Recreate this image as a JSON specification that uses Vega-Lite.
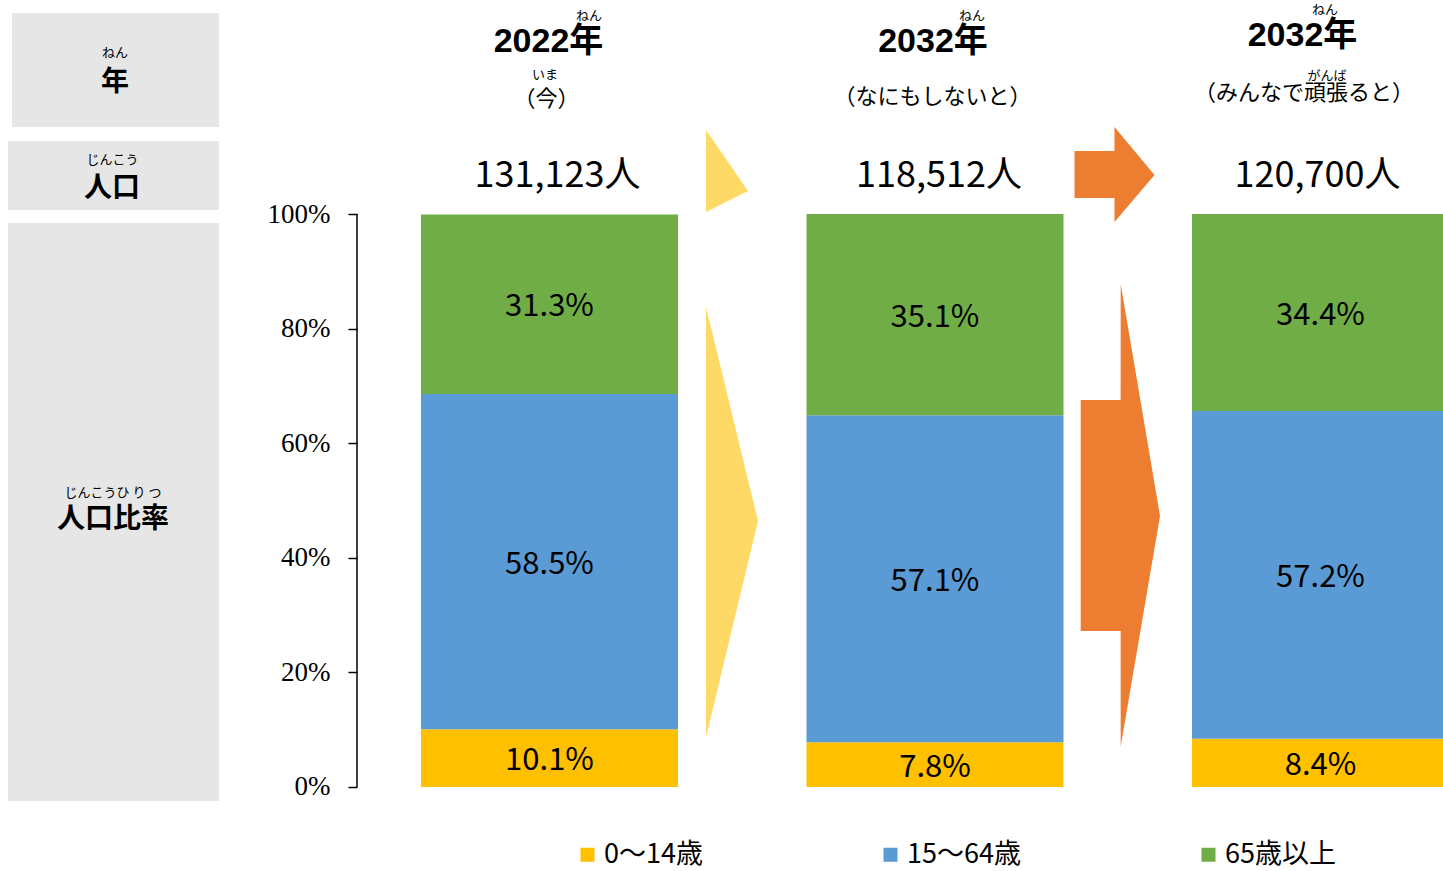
{
  "$schema": "https://vega.github.io/schema/vega-lite/v6.json",
  "width": 1086,
  "height": 871,
  "padding": {"left": 357, "top": 0, "right": 0, "bottom": 0},
  "autosize": {"type": "none"},
  "background": "white",
  "config": {"view": {"stroke": null}},
  "datasets": {
    "bars": [
      {"year": "2022年", "slot": 0, "age": "0～14歳", "k": 1, "value": 10.1, "label": "10.1%"},
      {"year": "2022年", "slot": 0, "age": "15～64歳", "k": 2, "value": 58.5, "label": "58.5%"},
      {"year": "2022年", "slot": 0, "age": "65歳以上", "k": 3, "value": 31.3, "label": "31.3%"},
      {"year": "2032年（なにもしないと）", "slot": 1, "age": "0～14歳", "k": 1, "value": 7.8, "label": "7.8%"},
      {"year": "2032年（なにもしないと）", "slot": 1, "age": "15～64歳", "k": 2, "value": 57.1, "label": "57.1%"},
      {"year": "2032年（なにもしないと）", "slot": 1, "age": "65歳以上", "k": 3, "value": 35.1, "label": "35.1%"},
      {"year": "2032年（みんなで頑張ると）", "slot": 2, "age": "0～14歳", "k": 1, "value": 8.4, "label": "8.4%"},
      {"year": "2032年（みんなで頑張ると）", "slot": 2, "age": "15～64歳", "k": 2, "value": 57.2, "label": "57.2%"},
      {"year": "2032年（みんなで頑張ると）", "slot": 2, "age": "65歳以上", "k": 3, "value": 34.4, "label": "34.4%"}
    ],
    "boxes": [
      {"row": "年", "s1": -1.3943, "s2": -0.8573, "p1": 135.08, "p2": 115.18},
      {"row": "人口", "s1": -1.4047, "s2": -0.8573, "p1": 112.74, "p2": 100.70},
      {"row": "人口比率", "s1": -1.4047, "s2": -0.8573, "p1": 98.43, "p2": -2.44}
    ],
    "arrows": [
      {"arrow": "a1", "group": "step1", "s": 0.4060, "top": 114.66, "bottom": 100.35},
      {"arrow": "a1", "group": "step1", "s": 0.5149, "top": 104.01, "bottom": 104.01},
      {"arrow": "a2", "group": "step1", "s": 0.4060, "top": 83.77, "bottom": 8.73},
      {"arrow": "a2", "group": "step1", "s": 0.5409, "top": 46.42, "bottom": 46.42},
      {"arrow": "a3", "group": "step2", "s": 1.3619, "top": 111.0, "bottom": 102.79},
      {"arrow": "a3", "group": "step2", "s": 1.4655, "top": 111.0, "bottom": 102.79},
      {"arrow": "a3", "group": "step2", "s": 1.4656, "top": 115.18, "bottom": 98.60},
      {"arrow": "a3", "group": "step2", "s": 1.5694, "top": 106.81, "bottom": 106.81},
      {"arrow": "a4", "group": "step2", "s": 1.3780, "top": 67.54, "bottom": 27.23},
      {"arrow": "a4", "group": "step2", "s": 1.4816, "top": 67.54, "bottom": 27.23},
      {"arrow": "a4", "group": "step2", "s": 1.4817, "top": 87.78, "bottom": 7.07},
      {"arrow": "a4", "group": "step2", "s": 1.5837, "top": 47.29, "bottom": 47.29}
    ],
    "axisline": [{"s": -0.4994, "p0": 0, "p1": 100}],
    "texts": [
      {"kind": "header", "s": -0.0026, "p": 130.10, "text": "2022年"},
      {"kind": "header", "s": 0.9948, "p": 130.10, "text": "2032年"},
      {"kind": "header", "s": 1.9533, "p": 131.06, "text": "2032年"},
      {"kind": "sub", "s": -0.0078, "p": 120.07, "text": "（今）"},
      {"kind": "sub", "s": 0.9935, "p": 120.42, "text": "（なにもしないと）"},
      {"kind": "sub", "s": 1.9572, "p": 121.12, "text": "（みんなで頑張ると）"},
      {"kind": "pop", "s": 0.0208, "p": 106.63, "text": "131,123人"},
      {"kind": "pop", "s": 1.0104, "p": 106.63, "text": "118,512人"},
      {"kind": "pop", "s": 1.9922, "p": 106.63, "text": "120,700人"},
      {"kind": "boxlabel", "s": -1.1271, "p": 122.95, "text": "年"},
      {"kind": "boxlabel", "s": -1.1349, "p": 104.4, "text": "人口"},
      {"kind": "boxlabel", "s": -1.1323, "p": 46.6, "text": "人口比率"},
      {"kind": "ruby", "s": -1.1271, "p": 128.1, "text": "ねん"},
      {"kind": "ruby", "s": -1.1336, "p": 109.45, "text": "じんこう"},
      {"kind": "ruby", "s": -1.1323, "p": 51.3, "text": "じんこうひ り つ"},
      {"kind": "ruby", "s": 0.1025, "p": 134.6, "text": "ねん"},
      {"kind": "ruby", "s": -0.0117, "p": 124.26, "text": "いま"},
      {"kind": "ruby", "s": 1.096, "p": 134.6, "text": "ねん"},
      {"kind": "ruby", "s": 2.0117, "p": 135.6, "text": "ねん"},
      {"kind": "ruby", "s": 2.0169, "p": 124.08, "text": "がんば"}
    ]
  },
  "layer": [
    {
      "data": {"name": "boxes"},
      "mark": {"type": "rect", "color": "#E7E6E6"},
      "encoding": {
        "x": {"field": "s1", "type": "quantitative", "scale": {"domain": [-0.4994, 2.3178], "nice": false, "zero": false, "padding": 0}, "axis": null},
        "x2": {"field": "s2"},
        "y": {"field": "p1", "type": "quantitative", "title": null, "scale": {"domain": [-14.66, 137.35], "nice": false, "zero": false, "padding": 0}},
        "y2": {"field": "p2"}
      }
    },
    {
      "data": {"name": "arrows"},
      "transform": [{"filter": {"field": "group", "equal": "step1"}}],
      "mark": {"type": "area", "color": "#FFD966", "orient": "vertical", "interpolate": "linear"},
      "encoding": {
        "x": {"field": "s", "type": "quantitative", "scale": {"domain": [-0.4994, 2.3178], "nice": false, "zero": false, "padding": 0}, "axis": null},
        "y": {"field": "top", "type": "quantitative", "title": null, "stack": null, "scale": {"domain": [-14.66, 137.35], "nice": false, "zero": false, "padding": 0}},
        "y2": {"field": "bottom"},
        "detail": {"field": "arrow"}
      }
    },
    {
      "data": {"name": "arrows"},
      "transform": [{"filter": {"field": "group", "equal": "step2"}}],
      "mark": {"type": "area", "color": "#ED7D31", "orient": "vertical", "interpolate": "linear"},
      "encoding": {
        "x": {"field": "s", "type": "quantitative", "scale": {"domain": [-0.4994, 2.3178], "nice": false, "zero": false, "padding": 0}, "axis": null},
        "y": {"field": "top", "type": "quantitative", "title": null, "stack": null, "scale": {"domain": [-14.66, 137.35], "nice": false, "zero": false, "padding": 0}},
        "y2": {"field": "bottom"},
        "detail": {"field": "arrow"}
      }
    },
    {
      "data": {"name": "bars"},
      "mark": {"type": "bar", "width": 257},
      "encoding": {
        "x": {"field": "slot", "type": "quantitative", "scale": {"domain": [-0.4994, 2.3178], "nice": false, "zero": false, "padding": 0}, "axis": null},
        "y": {
          "field": "value", "type": "quantitative", "stack": "zero", "title": null,
          "scale": {"domain": [-14.66, 137.35], "nice": false, "zero": false, "padding": 0},
          "axis": {
            "orient": "left",
            "values": [0, 20, 40, 60, 80, 100],
            "labelExpr": "datum.value + '%'",
            "domain": false,
            "grid": false,
            "title": null,
            "ticks": true,
            "tickSize": 9,
            "tickColor": "#000",
            "tickWidth": 1.5,
            "labelFont": "Liberation Serif",
            "labelFontSize": 27,
            "labelColor": "#000",
            "labelPadding": 18,
            "labelFlush": false,
            "labelOverlap": false,
            "labelBound": false
          }
        },
        "color": {
          "field": "age", "type": "nominal",
          "scale": {"domain": ["0～14歳", "15～64歳", "65歳以上"], "range": ["#FFC000", "#5B9BD5", "#70AD47"]},
          "legend": {
            "orient": "none", "legendX": 217, "legendY": 841, "direction": "horizontal",
            "title": null, "symbolType": "square", "symbolSize": 196, "symbolStrokeWidth": 0,
            "labelFont": "Noto Sans CJK JP",
            "labelFontSize": 27, "labelColor": "#000", "columnPadding": 174, "labelOffset": 3, "padding": 0
          }
        },
        "order": {"field": "k", "type": "quantitative"}
      }
    },
    {
      "data": {"name": "bars"},
      "mark": {"type": "text", "font": "Noto Sans CJK JP", "fontSize": 31, "color": "#000", "dy": 3},
      "encoding": {
        "x": {"field": "slot", "type": "quantitative", "scale": {"domain": [-0.4994, 2.3178], "nice": false, "zero": false, "padding": 0}, "axis": null},
        "y": {"field": "value", "type": "quantitative", "title": null, "stack": "zero", "bandPosition": 0.5, "scale": {"domain": [-14.66, 137.35], "nice": false, "zero": false, "padding": 0}},
        "detail": {"field": "age"},
        "order": {"field": "k", "type": "quantitative"},
        "text": {"field": "label"}
      }
    },
    {
      "data": {"name": "axisline"},
      "mark": {"type": "rule", "color": "#000", "strokeWidth": 1.5},
      "encoding": {
        "x": {"field": "s", "type": "quantitative", "scale": {"domain": [-0.4994, 2.3178], "nice": false, "zero": false, "padding": 0}, "axis": null},
        "y": {"field": "p0", "type": "quantitative", "title": null, "scale": {"domain": [-14.66, 137.35], "nice": false, "zero": false, "padding": 0}},
        "y2": {"field": "p1"}
      }
    },
    {
      "data": {"name": "texts"},
      "transform": [{"filter": {"field": "kind", "equal": "header"}}],
      "mark": {"type": "text", "font": "Liberation Sans, Noto Sans CJK JP", "fontWeight": "bold", "fontSize": 34, "color": "#000"},
      "encoding": {
        "x": {"field": "s", "type": "quantitative", "scale": {"domain": [-0.4994, 2.3178], "nice": false, "zero": false, "padding": 0}, "axis": null},
        "y": {"field": "p", "type": "quantitative", "title": null, "scale": {"domain": [-14.66, 137.35], "nice": false, "zero": false, "padding": 0}},
        "text": {"field": "text"}
      }
    },
    {
      "data": {"name": "texts"},
      "transform": [{"filter": {"field": "kind", "equal": "sub"}}],
      "mark": {"type": "text", "font": "Noto Sans CJK JP", "fontSize": 22, "color": "#000"},
      "encoding": {
        "x": {"field": "s", "type": "quantitative", "scale": {"domain": [-0.4994, 2.3178], "nice": false, "zero": false, "padding": 0}, "axis": null},
        "y": {"field": "p", "type": "quantitative", "title": null, "scale": {"domain": [-14.66, 137.35], "nice": false, "zero": false, "padding": 0}},
        "text": {"field": "text"}
      }
    },
    {
      "data": {"name": "texts"},
      "transform": [{"filter": {"field": "kind", "equal": "pop"}}],
      "mark": {"type": "text", "font": "Noto Sans CJK JP", "fontSize": 36, "color": "#000"},
      "encoding": {
        "x": {"field": "s", "type": "quantitative", "scale": {"domain": [-0.4994, 2.3178], "nice": false, "zero": false, "padding": 0}, "axis": null},
        "y": {"field": "p", "type": "quantitative", "title": null, "scale": {"domain": [-14.66, 137.35], "nice": false, "zero": false, "padding": 0}},
        "text": {"field": "text"}
      }
    },
    {
      "data": {"name": "texts"},
      "transform": [{"filter": {"field": "kind", "equal": "boxlabel"}}],
      "mark": {"type": "text", "font": "Noto Sans CJK JP", "fontWeight": "bold", "fontSize": 28, "color": "#000"},
      "encoding": {
        "x": {"field": "s", "type": "quantitative", "scale": {"domain": [-0.4994, 2.3178], "nice": false, "zero": false, "padding": 0}, "axis": null},
        "y": {"field": "p", "type": "quantitative", "title": null, "scale": {"domain": [-14.66, 137.35], "nice": false, "zero": false, "padding": 0}},
        "text": {"field": "text"}
      }
    },
    {
      "data": {"name": "texts"},
      "transform": [{"filter": {"field": "kind", "equal": "ruby"}}],
      "mark": {"type": "text", "font": "Noto Sans CJK JP", "fontSize": 13, "color": "#000"},
      "encoding": {
        "x": {"field": "s", "type": "quantitative", "scale": {"domain": [-0.4994, 2.3178], "nice": false, "zero": false, "padding": 0}, "axis": null},
        "y": {"field": "p", "type": "quantitative", "title": null, "scale": {"domain": [-14.66, 137.35], "nice": false, "zero": false, "padding": 0}},
        "text": {"field": "text"}
      }
    }
  ]
}
